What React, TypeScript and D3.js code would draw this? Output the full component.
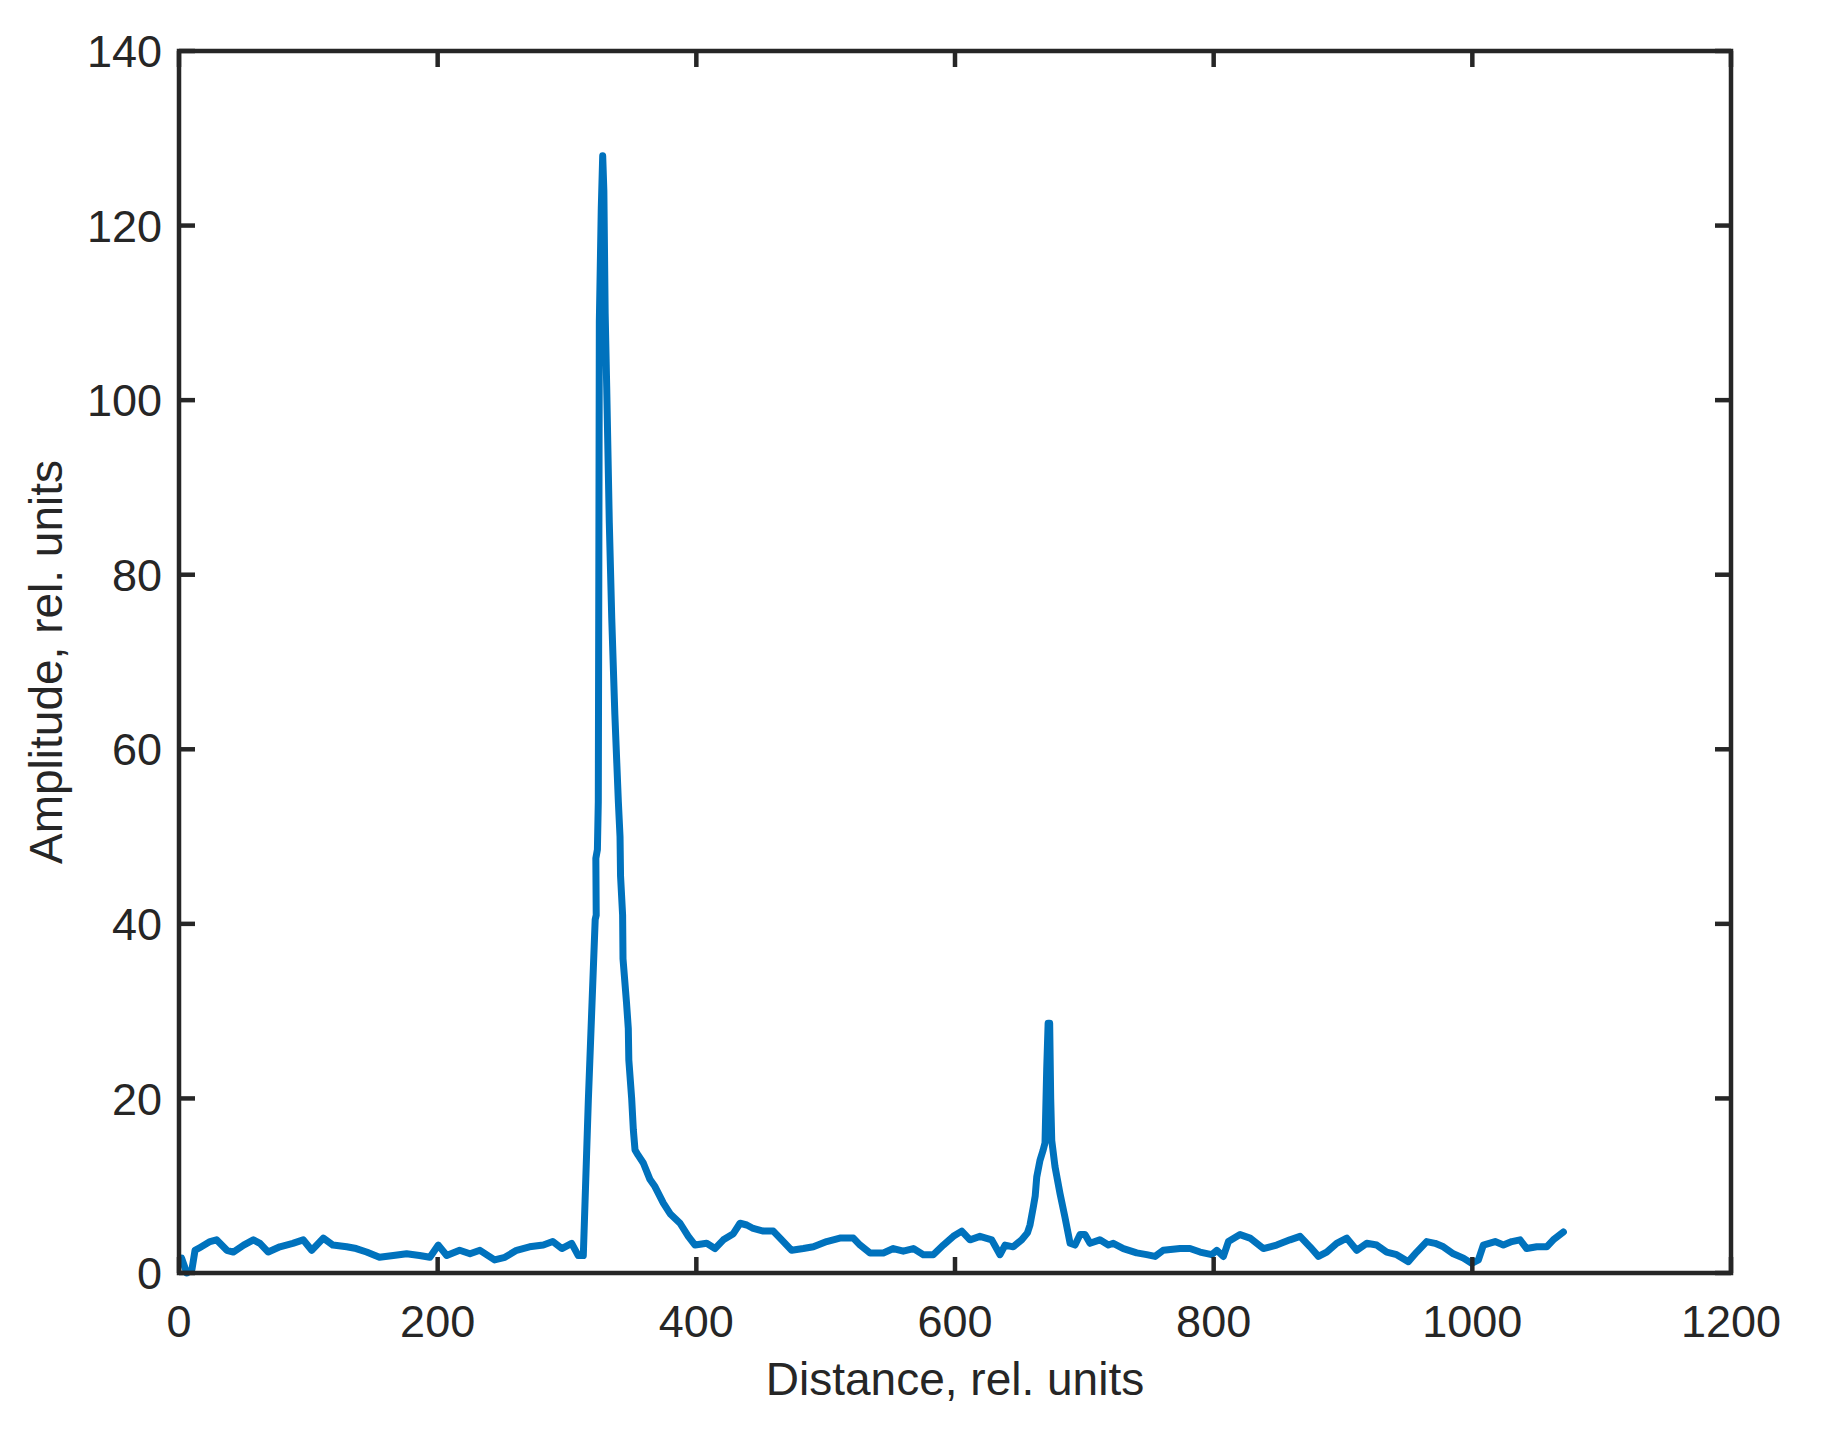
import React from "react";
import * as d3 from "d3";

// Distance (rel. units) and amplitude (rel. units)
const distance: number[] = [
  2, 6, 10, 12.4, 16, 24, 29, 37, 42, 50, 57.5, 62.6, 69, 78, 88, 96, 102.6, 111.6, 119, 129.7,
  137, 145, 155, 165.7, 176, 186, 194, 200.5, 207, 217, 225, 232.7, 244, 252, 261, 271, 281.7, 289,
  296, 303.6, 308.7, 312.6,
  316.5, 321.8, 322.6, 322.3, 323.5, 324.2, 324.6, 325, 326.5, 327.6, 328.5, 329.5, 330.7, 332.7,
  334.6, 337, 339.7, 341, 341.4, 343, 343.3, 346, 347.4, 347.8, 350, 351.3, 352.6, 355,
  359, 364.2, 368, 374.5, 379.7, 387.4, 393.8, 399, 408, 414.4, 420.9, 428.6, 433.8, 439, 444,
  451.8, 459.5, 466, 473.7, 482.7, 490.5, 500.8, 511, 521.4, 526.6, 534.3, 544.6, 552.3, 560,
  567.8, 575.5, 583.2, 591, 598.7, 605.2, 611.6, 619.3, 628.4, 634.8, 638.7, 645, 651.6, 656,
  658, 660.6, 662, 663.2, 665.7, 668, 669.6, 670.9, 672, 673.2, 674, 674.8, 677.3, 681.2, 685,
  689, 692.8, 696.7, 700.5, 704.4, 712, 718.6, 722.4, 730.2, 740.5, 748.2, 754.7, 761, 774,
  781.7, 789.5, 798.5, 802.4, 807.5, 811.4, 820.4, 828.1, 838.4, 848.7, 859, 866.8, 874.5, 881,
  887.4, 895.1, 902.9, 910.6, 918.3, 926.1, 933.8, 941.5, 950.5, 957, 964.7, 971.2, 977.6, 985.3,
  993.1, 999.5, 1004.7, 1008.5, 1017.6, 1024, 1030.5, 1036.9, 1042, 1049.8, 1057.5, 1062.6, 1070.4,
];

const amplitude: number[] = [
  1.7, 0, 0.4, 2.6, 2.9, 3.6, 3.8, 2.6, 2.4, 3.2, 3.8, 3.4, 2.4, 3.0, 3.4, 3.8, 2.6, 4.0, 3.2, 3.0,
  2.8, 2.4, 1.8, 2.0, 2.2, 2.0, 1.8, 3.2, 2.0, 2.6, 2.2, 2.6, 1.5, 1.8, 2.6, 3.0, 3.2, 3.6,
  2.8, 3.4, 2.0, 2.0,
  19.8, 40.5, 41, 47.5, 48.5, 54, 80, 109, 122, 128, 124, 110, 101.5, 86,
  75, 64, 54, 50, 45.5, 41, 36, 31, 28, 24.4, 20, 16.4, 14.1, 13.5,
  12.6, 10.7, 9.9, 8.0, 6.8, 5.7, 4.2, 3.2, 3.4, 2.8, 3.8, 4.5, 5.7, 5.5, 5.1,
  4.8, 4.8, 3.8, 2.6, 2.8, 3.0, 3.6, 4.0, 4.0, 3.2, 2.3, 2.3, 2.8, 2.5,
  2.8, 2.1, 2.1, 3.2, 4.2, 4.8, 3.8, 4.2, 3.8, 2.1, 3.2, 3.0, 3.8, 4.6,
  5.5, 7.6, 8.8, 11.0, 12.9, 14, 14.9, 23.3, 28.6, 28.6, 20, 15.2, 12.2, 9.1, 6.4,
  3.4, 3.2, 4.4, 4.4, 3.4, 3.8, 3.2, 3.4, 2.8, 2.3, 2.1, 1.9, 2.6, 2.8,
  2.8, 2.4, 2.1, 2.6, 1.9, 3.6, 4.4, 4.0, 2.8, 3.2, 3.8, 4.2, 3.0, 1.9,
  2.4, 3.4, 4.0, 2.6, 3.4, 3.2, 2.4, 2.1, 1.3, 2.4, 3.6, 3.4, 3.0, 2.2,
  1.7, 1.1, 1.5, 3.2, 3.6, 3.2, 3.6, 3.8, 2.8, 3.0, 3.0, 3.8, 4.7,
];

const xTicks: number[] = [0, 200, 400, 600, 800, 1000, 1200];
const yTicks: number[] = [0, 20, 40, 60, 80, 100, 120, 140];
const xLabel = "Distance, rel. units";
const yLabel = "Amplitude, rel. units";

const W = 1821;
const H = 1438;
const L = 179;
const R = 1731;
const T = 51;
const B = 1273;
const AX = "#262626";
const FONT = "'Liberation Sans', Arial, Helvetica, sans-serif";

export default function App() {
  const x = d3.scaleLinear().domain([0, 1200]).range([L, R]);
  const y = d3.scaleLinear().domain([0, 140]).range([B, T]);
  const pts = distance.map((d, i) => [d, amplitude[i]] as [number, number]);
  const line = d3
    .line<[number, number]>()
    .x((d) => x(d[0]))
    .y((d) => y(d[1]));
  const tl = 16;
  const tw = 4.5;

  return (
    <svg
      width={W}
      height={H}
      style={{ position: "absolute", left: 0, top: 0, background: "#fff" }}
      fontFamily={FONT}
    >
      <rect x={0} y={0} width={W} height={H} fill="#fff" />
      <path
        d={line(pts) || ""}
        fill="none"
        stroke="#0072BD"
        strokeWidth={7}
        strokeLinejoin="round"
        strokeLinecap="round"
      />
      {xTicks.map((t) => (
        <g key={"xt" + t}>
          <line x1={x(t)} x2={x(t)} y1={B} y2={B - tl} stroke={AX} strokeWidth={tw} />
          <line x1={x(t)} x2={x(t)} y1={T} y2={T + tl} stroke={AX} strokeWidth={tw} />
          <text x={x(t)} y={1337} textAnchor="middle" fontSize={45} fill={AX}>
            {t}
          </text>
        </g>
      ))}
      {yTicks.map((t) => (
        <g key={"yt" + t}>
          <line x1={L} x2={L + tl} y1={y(t)} y2={y(t)} stroke={AX} strokeWidth={tw} />
          <line x1={R} x2={R - tl} y1={y(t)} y2={y(t)} stroke={AX} strokeWidth={tw} />
          <text x={162} y={y(t)} dy="0.36em" textAnchor="end" fontSize={45} fill={AX}>
            {t}
          </text>
        </g>
      ))}
      <rect
        x={L}
        y={T}
        width={R - L}
        height={B - T}
        fill="none"
        stroke={AX}
        strokeWidth={4.5}
      />
      <text x={(L + R) / 2} y={1395} textAnchor="middle" fontSize={46} fill={AX}>
        {xLabel}
      </text>
      <text
        transform={`translate(62, ${(T + B) / 2}) rotate(-90)`}
        textAnchor="middle"
        fontSize={46}
        fill={AX}
      >
        {yLabel}
      </text>
    </svg>
  );
}
